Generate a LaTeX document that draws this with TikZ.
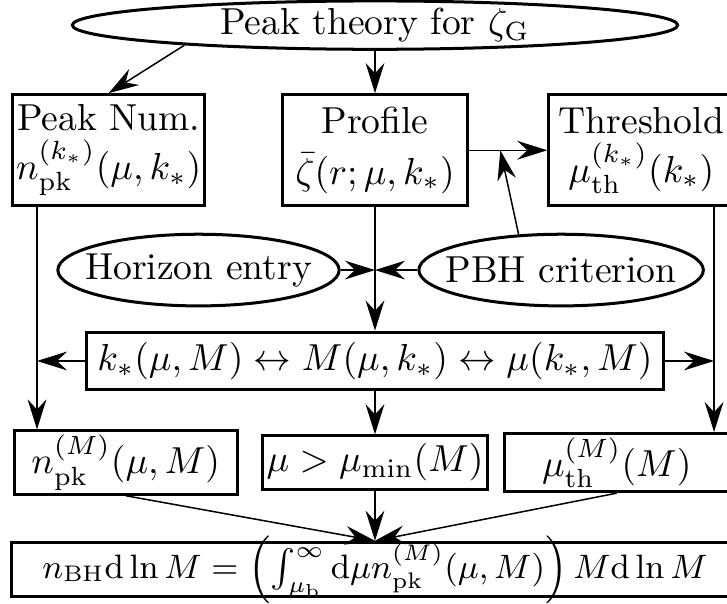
\documentclass[tikz,border=0pt]{standalone}
\usetikzlibrary{shapes.geometric,arrows.meta,calc}
\begin{document}
\begin{tikzpicture}[
    >={Stealth[length=8pt,width=5pt,inset=2.7pt]},
    box/.style={draw, thick, rectangle, inner sep=1pt, align=center},
    oval/.style={draw, thick, ellipse, inner sep=0pt},
  ]
  \useasboundingbox (-3.506,-2.842) rectangle (3.291,2.805);
  \clip (-3.506,-2.842) rectangle (3.291,2.805);
  % sources
  \node[oval, minimum width=5.66cm, minimum height=0.42cm] (top) at (0, 2.57) {\makebox[0pt]{Peak theory for $\zeta_{\mathrm{G}}$}};
  \node[box, minimum width=1.73cm, minimum height=1.04cm] (peak) at (-2.49, 1.40) {Peak Num.\\[1pt] $n^{(k_*)}_{\mathrm{pk}}(\mu,k_*)$};
  \node[box, minimum width=1.73cm, minimum height=1.04cm] (profile) at (0, 1.40) {Profile\\[1.5pt] $\bar\zeta(r;\mu,k_*)$};
  \node[box, minimum width=1.73cm, minimum height=1.04cm] (thresh) at (2.49, 1.40) {Threshold\\[1pt] $\mu^{(k_*)}_{\mathrm{th}}(k_*)$};
  \node[oval, minimum width=2.63cm, minimum height=0.67cm] (horizon) at (-1.65, 0.28) {\makebox[0pt]{Horizon entry}};
  \node[oval, minimum width=2.66cm, minimum height=0.67cm] (pbh) at (1.74, 0.28) {\makebox[0pt]{PBH criterion}};
  \node[box, minimum width=5.40cm, minimum height=0.54cm] (wide) at (0, -0.57) {$k_*(\mu,M)\leftrightarrow M(\mu,k_*)\leftrightarrow\mu(k_*,M)$};
  % in terms of M
  \node[box, minimum width=2.09cm, minimum height=0.50cm] (npk) at (-2.33, -1.52) {$n^{(M)}_{\mathrm{pk}}(\mu,M)$};
  \node[box, minimum width=2.09cm, minimum height=0.50cm] (cond) at (0, -1.52) {$\mu>\mu_{\mathrm{min}}(M)$};
  \node[box, minimum width=2.09cm, minimum height=0.50cm] (thb) at (2.26, -1.52) {$\mu^{(M)}_{\mathrm{th}}(M)$};
  \node[box, font=\small, minimum width=6.80cm, minimum height=0.51cm, text height=6pt, text depth=1.5pt] (bh) at (0, -2.52) {$n_{\mathrm{BH}}\mathrm{d}\ln M=\left(\int_{\mu_{\mathrm{b}}}^\infty\mathrm{d}\mu n^{(M)}_{\mathrm{pk}}(\mu,M)\right)M\mathrm{d}\ln M$};
  \coordinate (lcol) at (-3.16, 0);
  \coordinate (rcol) at (3.17, 0);
  \coordinate (meet) at (profile.south |- horizon.east);
  \coordinate (crit) at ($(profile.east)!0.4!(thresh.west)$);
  \draw[->] (top.186) -- (peak.north);
  \draw[->] (top.south) -- (profile.north);
  \draw[->] (profile.east) -- (thresh.west);
  \draw[->] (pbh.140) -- (crit);
  \draw[->] (horizon.east) -- (meet);
  \draw[->] (pbh.west) -- (meet);
  \draw[->] (profile.south) -- (wide.north);
  \draw[->] (lcol |- peak.south) -- (lcol |- npk.north);
  \draw[->] (rcol |- thresh.south) -- (rcol |- thb.north);
  \draw[->] (wide.west) -- (lcol |- wide.west);
  \draw[->] (wide.east) -- (rcol |- wide.east);
  \draw[->] (wide.south) -- (wide.south |- cond.north);
  \draw[->] (npk.south) -- (bh.north);
  \draw[->] (cond.south) -- (bh.north);
  \draw[->] (thb.south) -- (bh.north);
\end{tikzpicture}
\end{document}
